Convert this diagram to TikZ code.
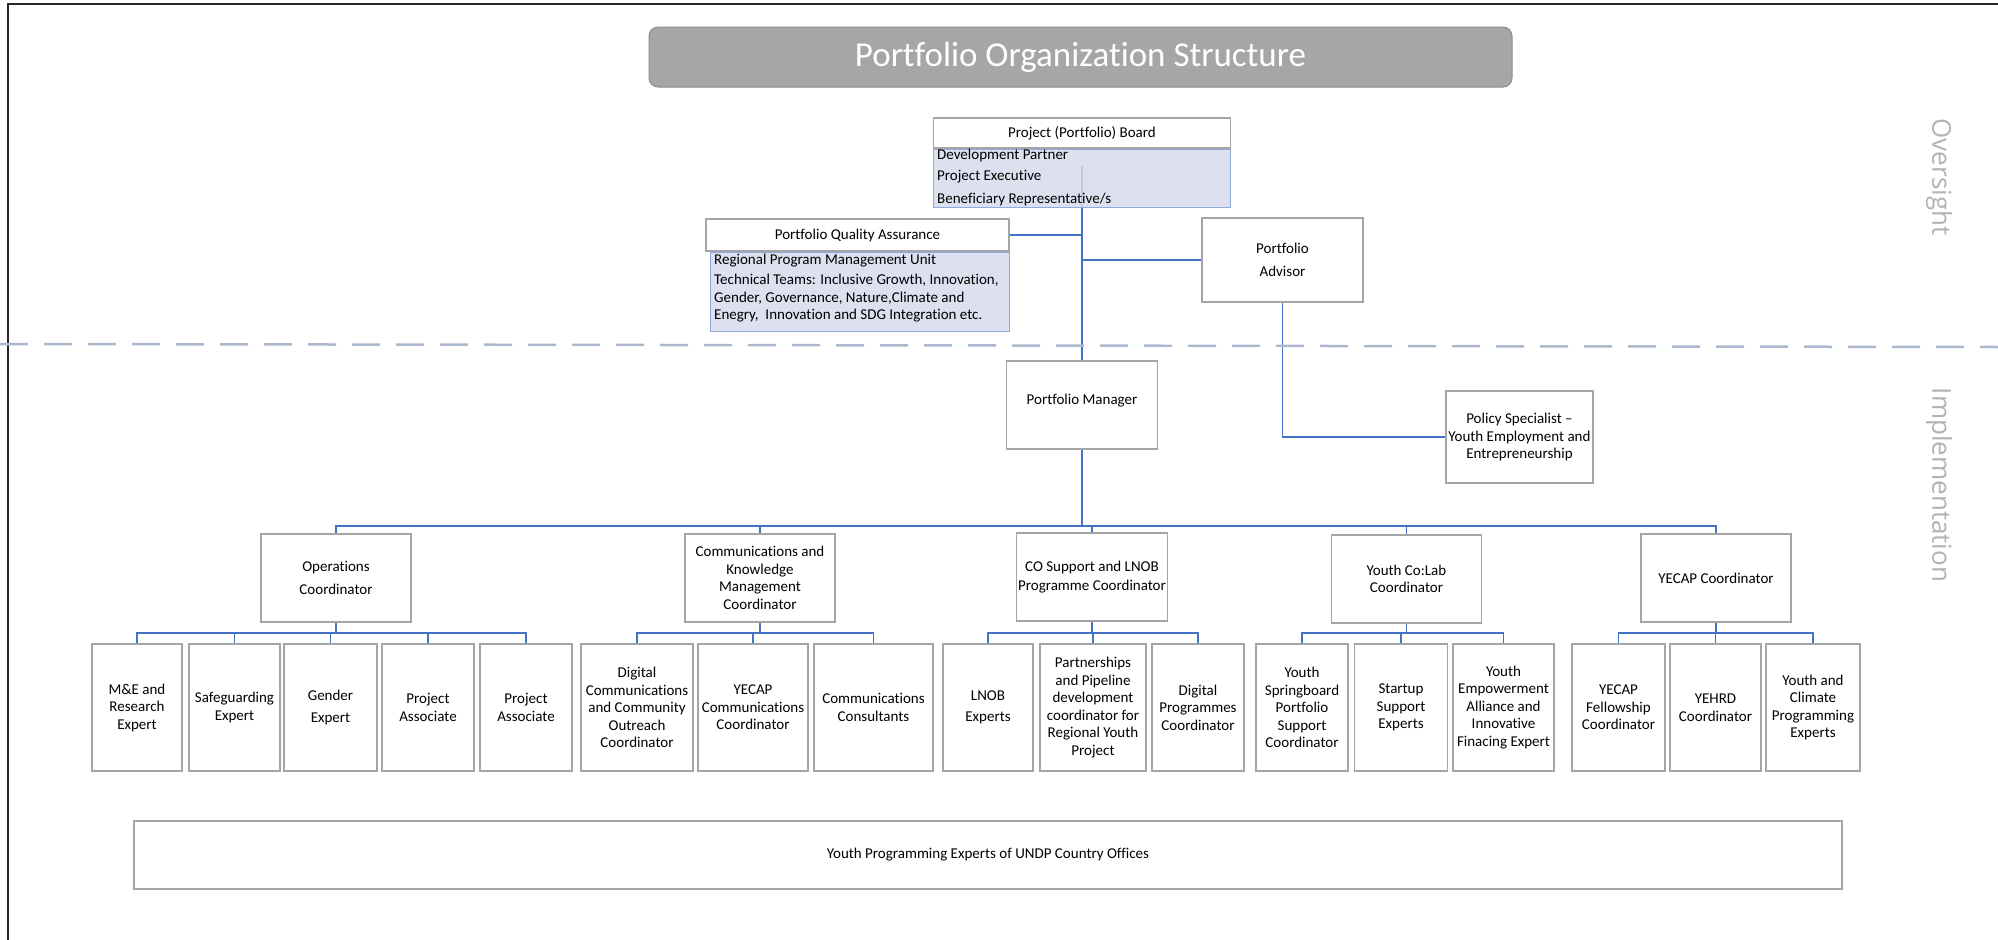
\documentclass[tikz,border=0pt]{standalone}
\usepackage{fontspec}
\setmainfont{Carlito}[Ligatures={TeX,NoCommon}]
\newfontfamily\sidefont{Open Sans}
\usepackage{xcolor}
\usetikzlibrary{backgrounds}

\definecolor{boxline}{RGB}{165,165,165}
\definecolor{memberfill}{RGB}{214,218,236}
\definecolor{memberline}{RGB}{143,170,220}
\definecolor{linkblue}{RGB}{68,114,196}
\definecolor{dashblue}{RGB}{172,184,206}
\definecolor{titlegray}{RGB}{166,166,166}
\definecolor{sidegray}{RGB}{178,178,178}

\begin{document}
\begin{tikzpicture}[x=1pt, y=-1pt,
  every node/.style={font=\fontsize{15}{17.5}\selectfont, inner sep=2pt},
  post/.style={draw=boxline, line width=1.1pt, fill=white, align=center},
  lead/.style={post, minimum width=150pt, minimum height=88pt},
  staff/.style={post, minimum height=127pt},
  members/.style={draw=memberline, line width=1pt, fill=memberfill, fill opacity=.85},
  rowtext/.style={anchor=west, inner sep=0pt},
  link/.style={draw=linkblue, line width=1.5pt},
  trunk/.style={link, line width=2.6pt},
  boundary/.style={draw=dashblue, line width=2.5pt, dash pattern=on 28pt off 16pt},
  sidelabel/.style={text=sidegray, font=\sidefont\fontsize{26}{30}\selectfont, rotate=-90}]
  \useasboundingbox (0,0) rectangle (1998,940);
  \draw[black!85, line width=1.6pt] (8,940) -- (8,4) -- (1998,4);

  \node[draw=black!45, fill=titlegray, rounded corners=9pt, line width=1pt,
        minimum width=863pt, minimum height=60pt, text=white,
        font=\fontsize{35}{40}\selectfont] (title) at (1080.5,57) {Portfolio Organization Structure};

  % oversight
  \node[post, minimum width=297pt, minimum height=30pt] (board) at (1082,133) {Project (Portfolio) Board};
  \node[members, anchor=north, minimum width=297pt, minimum height=58pt] (boardmem) at (board.south) {};
  \node[rowtext] (dev) at (937,155) {Development Partner};
  \node[rowtext] (exe) at (937,177) {Project Executive};
  \node[rowtext] (ben) at (937,199) {Beneficiary Representative/s};

  \node[post, minimum width=303pt, minimum height=32pt] (qa) at (857.5,235) {Portfolio Quality Assurance};
  \node[members, anchor=north east, minimum width=299pt, minimum height=79pt] (qamem) at (qa.south east) {};
  \node[rowtext] (rpmu) at (714,261) {Regional Program Management Unit};
  \node[rowtext, anchor=north west, align=left] (tech) at (714,274)
    {Technical Teams: Inclusive Growth, Innovation,\\Gender, Governance, Nature,Climate and\\Enegry, \ Innovation and SDG Integration etc.};

  \node[post, minimum width=161pt, minimum height=84pt] (adv) at (1282.5,260) {Portfolio\\[5pt]Advisor};

  \draw[boundary] (0,344) -- (1998,347);
  \node[sidelabel] (over) at (1939,177) {Oversight};
  \node[sidelabel] (impl) at (1939,485) {Implementation};

  % implementation
  \node[post, minimum width=151pt, minimum height=88pt] (pm) at (1082,405) {Portfolio Manager\\[-5.5pt]};
  \node[post, minimum width=147pt, minimum height=92pt] (pol) at (1519.5,437) {Policy Specialist –\\Youth Employment and\\Entrepreneurship};

  \node[lead] (ops) at (336,578) {Operations\\[5pt]Coordinator};
  \node[lead] (ckm) at (760,578) {Communications and\\Knowledge\\Management\\Coordinator};
  \node[lead] (cos) at (1092,577) {CO Support and LNOB\\[2pt]Programme Coordinator};
  \node[lead] (ycl) at (1406.5,579) {Youth Co:Lab\\Coordinator};
  \node[lead] (yec) at (1716,578) {YECAP Coordinator};

  \node[staff, minimum width=90pt]  (mne)  at (137,707.5)   {M\&E and\\Research\\Expert};
  \node[staff, minimum width=91pt]  (safe) at (234.5,707.5) {Safeguarding\\Expert};
  \node[staff, minimum width=93pt]  (gen)  at (330.5,707.5) {Gender\\[4pt]Expert};
  \node[staff, minimum width=92pt]  (pa1)  at (428,707.5)   {Project\\Associate};
  \node[staff, minimum width=92pt]  (pa2)  at (526,707.5)   {Project\\Associate};

  \node[staff, minimum width=112pt] (dig)  at (637,707.5)   {Digital\\Communications\\and Community\\Outreach\\Coordinator};
  \node[staff, minimum width=110pt] (yco)  at (753,707.5)   {YECAP\\Communications\\Coordinator};
  \node[staff, minimum width=119pt] (ccs)  at (873.5,707.5) {Communications\\Consultants};

  \node[staff, minimum width=90pt]  (lnob) at (988,707.5)   {LNOB\\[4pt]Experts};
  \node[staff, minimum width=106pt] (pp)   at (1093,707.5)  {Partnerships\\and Pipeline\\development\\coordinator for\\Regional Youth\\Project};
  \node[staff, minimum width=92pt]  (dpc)  at (1198,707.5)  {Digital\\Programmes\\Coordinator};

  \node[staff, minimum width=92pt]  (ysb)  at (1302,707.5)  {Youth\\Springboard\\Portfolio\\Support\\Coordinator};
  \node[staff, minimum width=93pt]  (sse)  at (1401,707.5)  {Startup\\Support\\Experts};
  \node[staff, minimum width=101pt] (yea)  at (1503.5,707.5) {Youth\\Empowerment\\Alliance and\\Innovative\\Finacing Expert};

  \node[staff, minimum width=93pt]  (yfc)  at (1618.5,707.5) {YECAP\\Fellowship\\Coordinator};
  \node[staff, minimum width=91pt]  (yeh)  at (1715.5,707.5) {YEHRD\\Coordinator};
  \node[staff, minimum width=94pt]  (ycp)  at (1813,707.5)  {Youth and\\Climate\\Programming\\Experts};

  \node[post, minimum width=1708pt, minimum height=68pt] (cof) at (988,855) {Youth Programming Experts of UNDP Country Offices};

  \begin{scope}[on background layer]
    \coordinate (top) at (1082,166);
    \coordinate (bus) at (1082,526);
    \draw[link] (top) -- (top |- pm.north);
    \draw[link] (qa.east) -- (qa.east -| top);
    \draw[link] (adv.west) -- (adv.west -| top);
    \draw[link] (adv.south) |- (pol.west);
    \draw[trunk] (pm.south) -- (bus) -- (bus -| yec.north);
    \foreach \c in {ops,ckm,cos,ycl,yec}
      \draw[link] (\c.north) |- (bus);
    \foreach \p/\kids in {ops/{mne,safe,gen,pa1,pa2}, ckm/{dig,yco,ccs},
                          cos/{lnob,pp,dpc}, ycl/{ysb,sse,yea}, yec/{yfc,yeh,ycp}} {
      \coordinate (\p-b) at (\p.south |- 0,633);
      \draw[link] (\p.south) -- (\p-b);
      \foreach \k in \kids
        \draw[link] (\k.north) |- (\p-b);
    }
  \end{scope}
\end{tikzpicture}
\end{document}
